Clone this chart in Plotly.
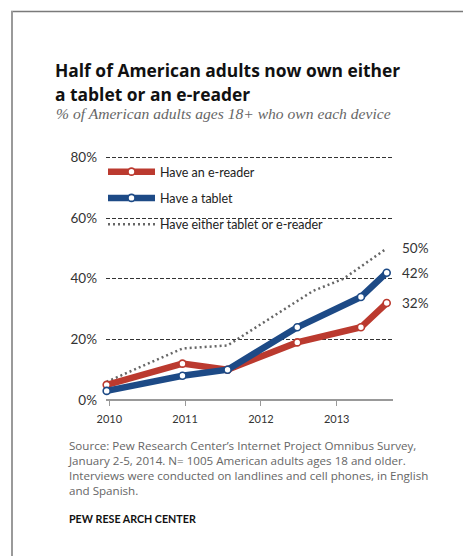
import plotly.graph_objects as go

# Survey dates (decimal years) and ownership shares, % of US adults 18+
survey_dates = [2009.965, 2010.965, 2011.56, 2012.48, 2013.32, 2013.66]
ereader_pct = [5, 12, 10, 19, 24, 32]
tablet_pct = [3, 8, 10, 24, 34, 42]

either_dates = [2009.965, 2010.965, 2011.56, 2012.69, 2013.09, 2013.66]
either_pct = [6, 17, 18, 36, 40, 50]

year_ticks = [2010, 2011, 2012, 2013]
year_labels = ["2010", "2011", "2012", "2013"]
pct_ticks = [0, 20, 40, 60, 80]
pct_labels = ["0%", "20%", "40%", "60%", "80%"]

source_lines = [
    "Source: Pew Research Center\u2019s Internet Project Omnibus Survey,",
    "January 2-5, 2014. N= 1005 American adults ages 18 and older.",
    "Interviews were conducted on landlines and cell phones, in English",
    "and Spanish.",
]

RED = "#bb3a2f"
BLUE = "#1d4a86"
DOT = "#666666"

W, H = 463, 556
ML, MR, MT, MB = 106, 70, 156, 156
PW, PH = W - ML - MR, H - MT - MB


def px(xp):
    return (xp - ML) / PW


def py(yp):
    return (H - MB - yp) / PH


fig = go.Figure()

fig.add_trace(go.Scatter(
    x=either_dates, y=either_pct, mode="lines",
    name="Have either tablet or e-reader", legendgroup="either",
    line=dict(color=DOT, width=2.5, dash="2px,3px"),
    legendrank=3, cliponaxis=False,
))
fig.add_trace(go.Scatter(
    x=survey_dates, y=ereader_pct, mode="lines+markers",
    name="Have an e-reader", legendgroup="ereader",
    line=dict(color=RED, width=6.5),
    marker=dict(size=7, color="white", line=dict(color=RED, width=1.6)),
    legendrank=1, cliponaxis=False,
))
fig.add_trace(go.Scatter(
    x=survey_dates, y=tablet_pct, mode="lines+markers",
    name="Have a tablet", legendgroup="tablet",
    line=dict(color=BLUE, width=6.5),
    marker=dict(size=7, color="white", line=dict(color=BLUE, width=1.6)),
    legendrank=2, cliponaxis=False,
))

# value labels at the last survey
end_labels = [
    (either_dates[-1], either_pct[-1]),
    (survey_dates[-1], tablet_pct[-1]),
    (survey_dates[-1], ereader_pct[-1]),
]
annotations = []
for xv, yv in end_labels:
    annotations.append(dict(
        x=xv, y=yv, xref="x", yref="y", text=f"{yv}%", showarrow=False,
        xanchor="left", yanchor="middle", xshift=13,
        font=dict(family="Lato", size=13.5, color="#333333"),
    ))

SANS = "Open Sans"
text_items = [
    ("Half of American adults now own either", 53, 69.7,
     dict(family=SANS, size=17.4, color="#111111", weight="bold")),
    ("a tablet or an e-reader", 53, 94.3,
     dict(family=SANS, size=17.4, color="#111111", weight="bold")),
    ("<i>% of American adults ages 18+ who own each device</i>", 54, 114,
     dict(family="Liberation Serif", size=15.6, color="#666666")),
    ("<br>".join(source_lines), 66, 467.8,
     dict(family=SANS, size=11.6, color="#666666")),
    ("PEW RESE ARCH CENTER", 67, 518,
     dict(family="Lato", size=10.7, color="#111111", weight="bold")),
]
for txt, xp, yp, f in text_items:
    annotations.append(dict(
        x=px(xp), y=py(yp), xref="paper", yref="paper", text=txt,
        showarrow=False, xanchor="left", yanchor="middle", align="left",
        font=f,
    ))

# page frame: top and left rules
shapes = [
    dict(type="line", xref="paper", yref="paper", x0=px(11), x1=px(W + 2),
         y0=py(11.6), y1=py(11.6), line=dict(color="#7a7a7a", width=1.5)),
    dict(type="line", xref="paper", yref="paper", x0=px(12), x1=px(12),
         y0=py(11), y1=py(H + 2), line=dict(color="#9a9a9a", width=2)),
]

fig.update_layout(
    width=W, height=H,
    margin=dict(l=ML, r=MR, t=MT, b=MB),
    paper_bgcolor="white", plot_bgcolor="white",
    font=dict(family="Lato", color="#333333"),
    showlegend=True,
    legend=dict(
        x=px(103), y=py(157), xanchor="left", yanchor="top",
        bgcolor="rgba(0,0,0,0)", itemwidth=47,
        font=dict(family="Lato", size=12.5, color="#222222"),
        traceorder="grouped", tracegroupgap=7,
    ),
    annotations=annotations,
    shapes=shapes,
    xaxis=dict(
        range=[2009.956, 2013.743], tickvals=year_ticks, ticktext=year_labels,
        showgrid=False, zeroline=False, showline=False,
        ticks="outside", ticklen=5, tickwidth=1.2, tickcolor="#999999",
        tickfont=dict(family="Lato", size=11, color="#333333"),
        ticklabelstandoff=4,
    ),
    yaxis=dict(
        range=[0, 80.5], tickvals=pct_ticks, ticktext=pct_labels,
        showgrid=True, gridcolor="#333333", gridwidth=1, griddash="4px,2px",
        zeroline=True, zerolinecolor="#999999", zerolinewidth=1.5,
        showline=False, ticks="",
        tickfont=dict(family="Lato", size=13.5, color="#333333"),
        ticklabelstandoff=8,
    ),
)

fig.write_html("out.html")
